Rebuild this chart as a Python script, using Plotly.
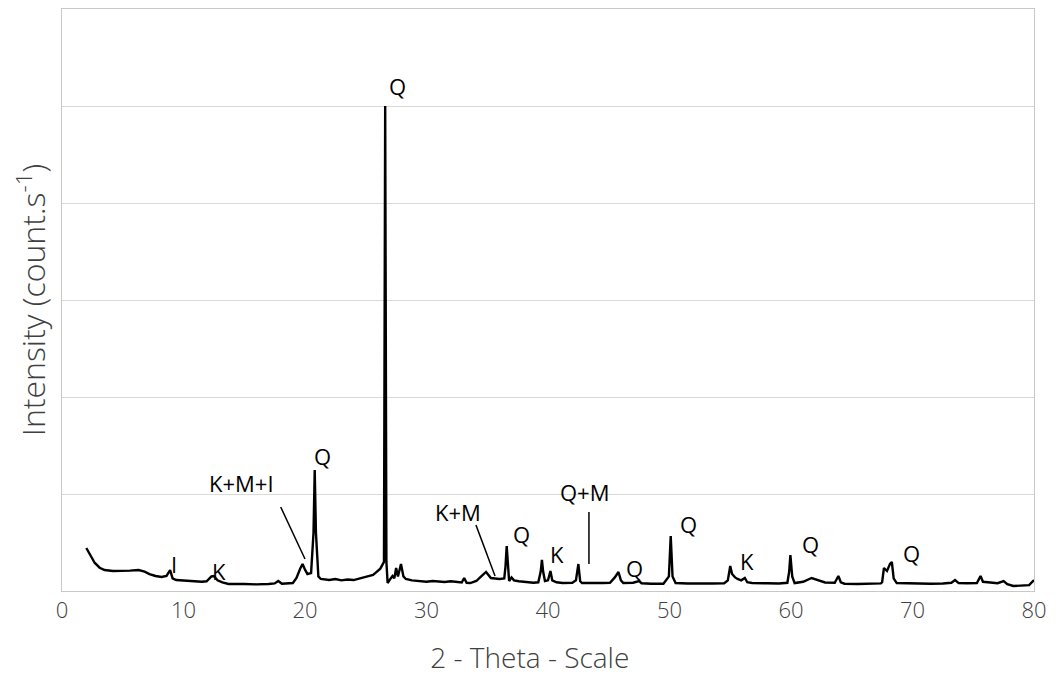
import plotly.graph_objects as go

two_theta = [2.0, 2.3, 2.7, 3.1, 3.5, 4.2, 4.9, 5.6, 6.3, 6.8, 7.2, 7.7, 8.2, 8.6, 8.9, 9.1, 9.4,
             10.5, 11.5, 11.9, 12.3, 12.5, 12.8, 13.2, 13.7, 15.0, 16.0, 17.0, 17.5, 17.8, 18.1,
             19.0, 19.3, 19.6, 19.8, 20.0, 20.2, 20.5, 20.7, 20.8, 20.9, 21.1, 21.3, 22.0, 22.5,
             23.0, 23.5, 24.0, 24.5, 25.0, 25.3, 25.6, 25.8, 26.2, 26.5, 26.6, 26.7, 26.8, 27.0,
             27.2, 27.35, 27.5, 27.65, 27.9, 28.1, 28.3, 28.8, 29.5, 30.0, 30.5, 31.0, 31.5, 32.0,
             32.5, 32.9, 33.1, 33.3, 33.6, 34.1, 34.5, 34.9, 35.3, 35.6, 36.0, 36.4, 36.5, 36.6,
             36.7, 36.8, 37.0, 37.2, 37.6, 38.2, 38.8, 39.2, 39.4, 39.5, 39.6, 39.75, 40.0, 40.2,
             40.35, 40.7, 41.2, 42.0, 42.3, 42.5, 42.65, 42.8, 43.5, 44.5, 45.1, 45.5, 45.8, 46.0,
             46.2, 47.0, 47.5, 47.7, 48.5, 49.5, 49.95, 50.1, 50.25, 50.5, 51.5, 52.5, 53.5, 54.5,
             54.8, 55.0, 55.15, 55.4, 55.6, 55.9, 56.2, 56.4, 56.8, 58.0, 59.0, 59.7, 59.85, 59.95,
             60.1, 60.3, 61.0, 61.7, 62.2, 62.8, 63.6, 63.9, 64.1, 64.4, 65.5, 66.5, 67.4, 67.5,
             67.65, 67.9, 68.15, 68.3, 68.45, 68.7, 69.5, 70.5, 71.5, 72.5, 73.2, 73.5, 73.8, 74.5,
             75.3, 75.6, 75.8, 76.2, 77.0, 77.5, 77.8, 78.3, 79.0, 79.6, 80.0]
intensity = [443, 380, 289, 240, 216, 206, 206, 210, 216, 200, 175, 155, 144, 155, 216, 130, 113,
             100, 95, 100, 150, 155, 110, 88, 72, 72, 68, 72, 78, 103, 75,
             82, 134, 230, 278, 220, 175, 185, 600, 1247, 600, 150, 124, 113, 124,
             110, 118, 113, 130, 140, 155, 165, 186, 230, 300, 5000, 300, 82, 120,
             155, 130, 237, 150, 278, 150, 124, 110, 103, 95, 103, 98, 93, 100,
             92, 88, 134, 85, 82, 103, 150, 196, 134, 130, 124, 130, 250, 464,
             250, 103, 140, 110, 100, 95, 85, 90, 200, 320, 200, 103, 110, 206,
             110, 90, 82, 85, 110, 278, 100, 82, 80, 82, 85, 140, 196, 110,
             82, 85, 103, 80, 75, 75, 150, 567, 150, 82, 78, 75, 78, 80,
             110, 258, 175, 140, 124, 110, 134, 90, 82, 80, 78, 85, 200, 371,
             150, 82, 95, 134, 110, 88, 85, 155, 90, 75, 72, 72, 78, 90,
             237, 206, 280, 299, 130, 82, 80, 75, 75, 78, 85, 113, 82, 80,
             82, 155, 95, 90, 80, 103, 70, 52, 55, 60, 113]

# Peak labels
label_text = ["I", "K", "K+M+I", "Q", "Q", "K+M", "Q", "K", "Q+M", "Q", "Q", "K", "Q", "Q"]
label_x = [9.2, 12.9, 14.8, 21.4, 27.65, 32.6, 37.8, 40.7, 43.0, 47.1, 51.6, 56.4, 61.6, 69.9]
label_y = [278, 206, 1113, 1392, 5206, 814, 588, 381, 1021, 237, 691, 309, 485, 392]

# Leader lines (x0, y0, x1, y1)
leader_x0 = [18.0, 34.07, 43.37]
leader_y0 = [866, 680, 814]
leader_x1 = [20.0, 35.64, 43.37]
leader_y1 = [330, 155, 278]

x_ticks = [0, 10, 20, 30, 40, 50, 60, 70, 80]

fig = go.Figure()
fig.add_trace(go.Scatter(x=two_theta, y=intensity, mode="lines",
                         line=dict(color="black", width=2.4), showlegend=False,
                         hoverinfo="skip"))

for t, x, y in zip(label_text, label_x, label_y):
    fig.add_annotation(x=x, y=y, text=t, showarrow=False,
                       font=dict(family="Open Sans", size=22, color="black"))

for x0, y0, x1, y1 in zip(leader_x0, leader_y0, leader_x1, leader_y1):
    fig.add_shape(type="line", x0=x0, y0=y0, x1=x1, y1=y1, xref="x", yref="y",
                  line=dict(color="black", width=1.5))

fig.update_layout(
    width=1056, height=700,
    margin=dict(l=54, r=30, t=1, b=117),
    paper_bgcolor="white", plot_bgcolor="white",
    font=dict(family="Open Sans", color="#404040"),
    xaxis=dict(range=[0, 80], tickvals=x_ticks, showgrid=False, zeroline=False,
               showline=True, mirror=True, linecolor="#c8c8c8", linewidth=1,
               ticks="", tickfont=dict(size=22, color="#404040", weight=300),
               title=dict(text="2 - Theta - Scale" + "&nbsp;" * 5,
                          font=dict(size=28, color="#404040", weight=300),
                          standoff=24)),
    yaxis=dict(range=[0, 6000], dtick=1000, showgrid=True, gridcolor="#d9d9d9",
               gridwidth=1, zeroline=False, showline=True, mirror=True,
               linecolor="#c8c8c8", linewidth=1, showticklabels=False, ticks="",
               title=dict(text="Intensity (count.s<sup>-1</sup>)",
                          font=dict(size=32, color="#404040", weight=300), standoff=6)),
)

fig.write_html("out.html")
